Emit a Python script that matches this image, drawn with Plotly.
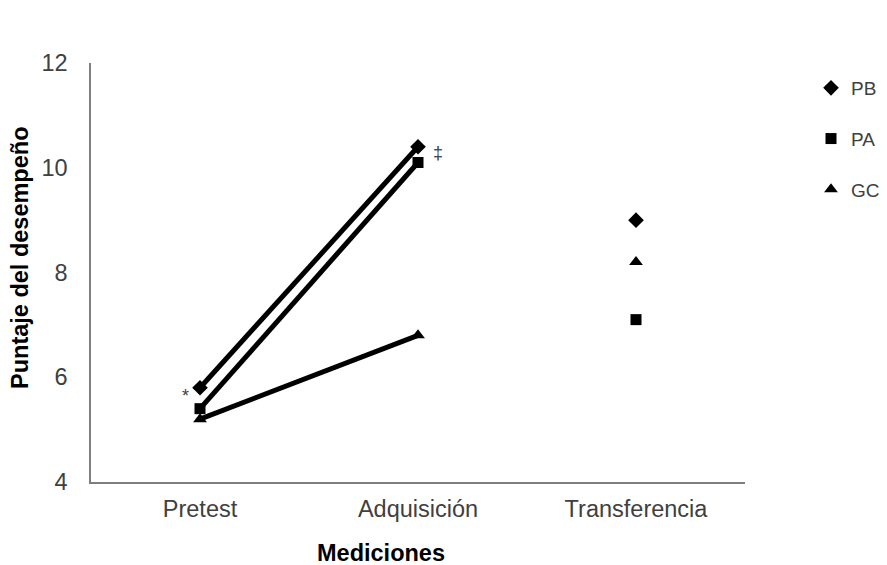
import plotly.graph_objects as go

categories = ["Pretest", "Adquisición", "Transferencia"]
series_names = ["PB", "PA", "GC"]
pb_values = [5.8, 10.4, 9.0]
pa_values = [5.4, 10.1, 7.1]
gc_values = [5.2, 6.8, 8.2]
y_ticks = [4, 6, 8, 10, 12]

symbols = {"PB": "diamond", "PA": "square", "GC": "triangle-up"}
sizes = {"PB": 12, "PA": 11, "GC": 12}
values = {"PB": pb_values, "PA": pa_values, "GC": gc_values}

fig = go.Figure()
for name in series_names:
    v = values[name]
    fig.add_trace(go.Scatter(
        x=categories[:2], y=v[:2], mode="lines",
        line=dict(color="black", width=5), showlegend=False, hoverinfo="skip"))
for name in series_names:
    v = values[name]
    fig.add_trace(go.Scatter(
        x=categories, y=v, mode="markers", name=name, legendgroup=name,
        marker=dict(symbol=symbols[name], size=sizes[name], color="black")))

font_family = "Liberation Sans, Arial, sans-serif"
OFF = 8  # page body margin
W, H = 887 - OFF, 565 - OFF
L, T = 91 - OFF, 63 - OFF
R, B = 887 - 745, 565 - 482
pw = W - L - R
ph = H - T - B


def px(xp):
    return (xp - OFF - L) / pw


def py(yp):
    return (H - B - (yp - OFF)) / ph


fig.update_layout(
    width=W, height=H,
    margin=dict(l=L, r=R, t=T, b=B, autoexpand=False),
    paper_bgcolor="white", plot_bgcolor="white",
    font=dict(family=font_family, color="#404040", size=21),
    showlegend=True,
    legend=dict(x=px(811), y=py(69), xanchor="left", yanchor="top",
                font=dict(size=19, color="#404040"),
                tracegroupgap=23, itemsizing="trace", bgcolor="rgba(0,0,0,0)"),
    xaxis=dict(type="category", categoryorder="array", categoryarray=categories,
               range=[-0.5, 2.5], showgrid=False, zeroline=False,
               showline=True, linecolor="#7f7f7f", linewidth=1.5,
               ticks="", ticklabelstandoff=5,
               tickfont=dict(size=23.5, color="#404040")),
    yaxis=dict(range=[4, 12], tickvals=y_ticks, showgrid=False, zeroline=False,
               showline=True, linecolor="#7f7f7f", linewidth=1.5,
               ticks="", ticklabelstandoff=17,
               tickfont=dict(size=23.5, color="#404040")),
    annotations=[
        dict(x="Pretest", y=5.65, xref="x", yref="y", text="*", showarrow=False,
             xshift=-15, font=dict(size=18, color="#404040")),
        dict(x="Adquisición", y=10.28, xref="x", yref="y", text="‡", showarrow=False,
             xshift=20, font=dict(size=18, color="#404040")),
        dict(x=px(381), y=py(553), xref="paper", yref="paper",
             text="<b>Mediciones</b>", showarrow=False, yanchor="middle",
             font=dict(size=23.5, color="black")),
        dict(x=px(20), y=py(258), xref="paper", yref="paper",
             text="<b>Puntaje del desempeño</b>", showarrow=False, textangle=-90,
             xanchor="center", yanchor="middle",
             font=dict(size=23.5, color="black")),
    ],
)

fig.write_html("out.html")
